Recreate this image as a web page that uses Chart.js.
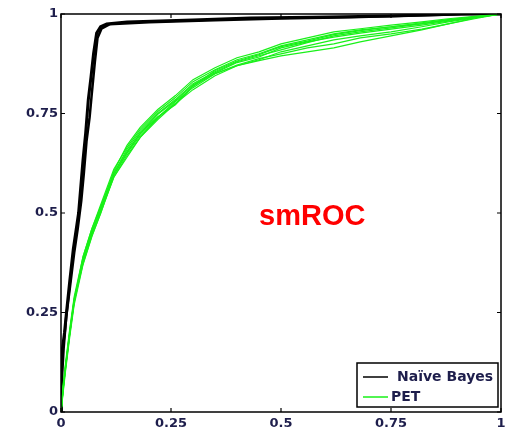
<!DOCTYPE html>
<html>
<head>
<meta charset="utf-8">
<script src="https://cdn.jsdelivr.net/npm/chart.js@4/dist/chart.umd.min.js"></script>
<style>
  html, body { margin: 0; padding: 0; background: #fff; }
  #wrap { width: 511px; height: 434px; }
</style>
</head>
<body>
<div id="wrap"><canvas id="roc" width="511" height="434"></canvas></div>
<script>
// axis ticks
const tickValues = [0, 0.25, 0.5, 0.75, 1];

// Naive Bayes ROC (two overlapping runs)
const nbFpr1 = [0, 0, 0.002, 0.008, 0.013, 0.02, 0.028, 0.036, 0.04, 0.05, 0.056, 0.062, 0.068, 0.074, 0.081, 0.09, 0.104, 0.15, 0.3, 0.43, 0.57, 0.75, 0.91, 1];
const nbTpr1 = [0, 0.07, 0.14, 0.2, 0.256, 0.33, 0.41, 0.47, 0.5, 0.633, 0.7, 0.784, 0.84, 0.9, 0.952, 0.968, 0.975, 0.98, 0.985, 0.99, 0.992, 0.995, 1, 1];
const nbFpr2 = [0, 0.003, 0.006, 0.012, 0.02, 0.03, 0.038, 0.046, 0.052, 0.058, 0.065, 0.07, 0.077, 0.083, 0.092, 0.11, 0.2, 0.35, 0.5, 0.66, 0.8, 0.93, 1];
const nbTpr2 = [0, 0.1, 0.16, 0.24, 0.31, 0.4, 0.46, 0.53, 0.6, 0.68, 0.74, 0.8, 0.88, 0.94, 0.963, 0.974, 0.979, 0.984, 0.989, 0.992, 0.996, 1, 1];

// PET ROC runs (shared false positive grid)
const petFpr = [0, 0.005, 0.01, 0.02, 0.03, 0.05, 0.07, 0.09, 0.12, 0.15, 0.18, 0.22, 0.26, 0.30, 0.35, 0.40, 0.45, 0.50, 0.56, 0.62, 0.68, 0.75, 0.82, 0.88, 0.94, 1];
const pet1 = [0, 0.07, 0.12, 0.21, 0.29, 0.39, 0.46, 0.52, 0.61, 0.665, 0.71, 0.755, 0.79, 0.83, 0.86, 0.885, 0.9, 0.92, 0.935, 0.95, 0.96, 0.968, 0.978, 0.986, 0.993, 1];
const pet2 = [0, 0.05, 0.1, 0.19, 0.27, 0.37, 0.44, 0.5, 0.59, 0.645, 0.69, 0.735, 0.775, 0.81, 0.845, 0.87, 0.885, 0.905, 0.92, 0.935, 0.945, 0.955, 0.968, 0.98, 0.99, 1];
const pet3 = [0, 0.06, 0.11, 0.2, 0.28, 0.385, 0.455, 0.505, 0.6, 0.66, 0.705, 0.75, 0.785, 0.825, 0.855, 0.88, 0.895, 0.91, 0.928, 0.945, 0.955, 0.965, 0.975, 0.984, 0.991, 1];
const pet4 = [0, 0.065, 0.115, 0.205, 0.285, 0.375, 0.445, 0.515, 0.595, 0.65, 0.695, 0.74, 0.78, 0.815, 0.85, 0.872, 0.888, 0.9, 0.915, 0.925, 0.94, 0.95, 0.962, 0.975, 0.988, 1];
const pet5 = [0, 0.055, 0.105, 0.195, 0.275, 0.38, 0.45, 0.51, 0.605, 0.67, 0.715, 0.76, 0.795, 0.835, 0.865, 0.89, 0.905, 0.925, 0.94, 0.955, 0.963, 0.972, 0.98, 0.988, 0.994, 1];
const pet6 = [0, 0.06, 0.11, 0.2, 0.28, 0.38, 0.45, 0.505, 0.59, 0.64, 0.69, 0.74, 0.775, 0.82, 0.85, 0.87, 0.883, 0.895, 0.905, 0.915, 0.93, 0.945, 0.96, 0.975, 0.99, 1];
const pet7 = [0, 0.058, 0.112, 0.2, 0.282, 0.39, 0.46, 0.515, 0.6, 0.655, 0.7, 0.748, 0.782, 0.822, 0.852, 0.878, 0.892, 0.915, 0.93, 0.942, 0.952, 0.962, 0.972, 0.982, 0.992, 1];
const pet8 = [0, 0.062, 0.108, 0.198, 0.278, 0.372, 0.442, 0.498, 0.595, 0.652, 0.7, 0.742, 0.772, 0.818, 0.858, 0.882, 0.898, 0.918, 0.932, 0.948, 0.958, 0.968, 0.976, 0.985, 0.992, 1];
const petRuns = [pet1, pet2, pet3, pet4, pet5, pet6, pet7, pet8];

const legendLabels = ['Naïve Bayes', 'PET'];
const annotation = 'smROC';

const BLACK = '#000000';
const GREEN = '#19f019';
const LABEL = '#1e1e4c';
const FONT = '"DejaVu Sans", Verdana, sans-serif';

const pts = (xs, ys) => xs.map((x, i) => ({ x: x, y: ys[i] }));

const datasets = [
  { data: pts(nbFpr1, nbTpr1), borderColor: BLACK, borderWidth: 3, order: 2 },
  { data: pts(nbFpr2, nbTpr2), borderColor: BLACK, borderWidth: 2.5, order: 2 }
].concat(petRuns.map(r => ({ data: pts(petFpr, r), borderColor: GREEN, borderWidth: 1.2, order: 1 })));

datasets.forEach(d => { d.pointRadius = 0; d.tension = 0; d.fill = false; });

// MATLAB-like box, inward ticks, legend and annotation
const frame = {
  id: 'frame',
  afterDraw(chart) {
    const { ctx, chartArea: a, scales } = chart;
    ctx.save();
    ctx.strokeStyle = '#000';
    ctx.lineWidth = 1.5;
    ctx.strokeRect(a.left, a.top, a.right - a.left, a.bottom - a.top);
    ctx.lineWidth = 1.2;
    tickValues.forEach(v => {
      const x = scales.x.getPixelForValue(v);
      const y = scales.y.getPixelForValue(v);
      ctx.beginPath();
      ctx.moveTo(x, a.bottom); ctx.lineTo(x, a.bottom - 4);
      ctx.moveTo(x, a.top); ctx.lineTo(x, a.top + 4);
      ctx.moveTo(a.left, y); ctx.lineTo(a.left + 4, y);
      ctx.moveTo(a.right, y); ctx.lineTo(a.right - 4, y);
      ctx.stroke();
    });

    // annotation
    ctx.fillStyle = '#ff0000';
    ctx.font = 'bold 29px "Liberation Sans", Arial, sans-serif';
    ctx.textAlign = 'center';
    ctx.textBaseline = 'alphabetic';
    ctx.fillText(annotation, scales.x.getPixelForValue(0.571), scales.y.getPixelForValue(0.47));

    // legend box
    const bx = a.right - 144, by = a.bottom - 49, bw = 141, bh = 44;
    ctx.fillStyle = '#fff';
    ctx.fillRect(bx, by, bw, bh);
    ctx.strokeStyle = '#000';
    ctx.lineWidth = 1.5;
    ctx.strokeRect(bx, by, bw, bh);
    const rows = [{ c: BLACK, y: by + 14, tx: bx + 40 }, { c: GREEN, y: by + 34, tx: bx + 34 }];
    ctx.font = 'bold 14px ' + FONT;
    ctx.textAlign = 'left';
    ctx.textBaseline = 'middle';
    rows.forEach((r, i) => {
      ctx.strokeStyle = r.c;
      ctx.lineWidth = 1.5;
      ctx.beginPath();
      ctx.moveTo(bx + 6, r.y); ctx.lineTo(bx + 31, r.y);
      ctx.stroke();
      ctx.fillStyle = LABEL;
      ctx.fillText(legendLabels[i], r.tx, r.y);
    });
    ctx.restore();
  }
};

const tickFont = { family: FONT, size: 13, weight: 'bold' };

new Chart(document.getElementById('roc'), {
  type: 'line',
  data: { datasets: datasets },
  options: {
    responsive: false,
    animation: false,
    layout: { padding: { top: 14, right: 10, left: 0, bottom: 0 } },
    plugins: { legend: { display: false }, tooltip: { enabled: false } },
    scales: {
      x: {
        type: 'linear', min: 0, max: 1,
        afterFit: s => { s.height = 22; },
        afterBuildTicks: s => { s.ticks = tickValues.map(v => ({ value: v })); },
        ticks: { color: LABEL, font: tickFont, padding: 4, maxRotation: 0, callback: v => String(v) },
        grid: { display: false, drawTicks: false },
        border: { display: false }
      },
      y: {
        type: 'linear', min: 0, max: 1,
        afterFit: s => { s.width = 61; },
        afterBuildTicks: s => { s.ticks = tickValues.map(v => ({ value: v })); },
        ticks: { color: LABEL, font: tickFont, padding: 3, callback: v => String(v) },
        grid: { display: false, drawTicks: false },
        border: { display: false }
      }
    }
  },
  plugins: [frame]
});
</script>
</body>
</html>
